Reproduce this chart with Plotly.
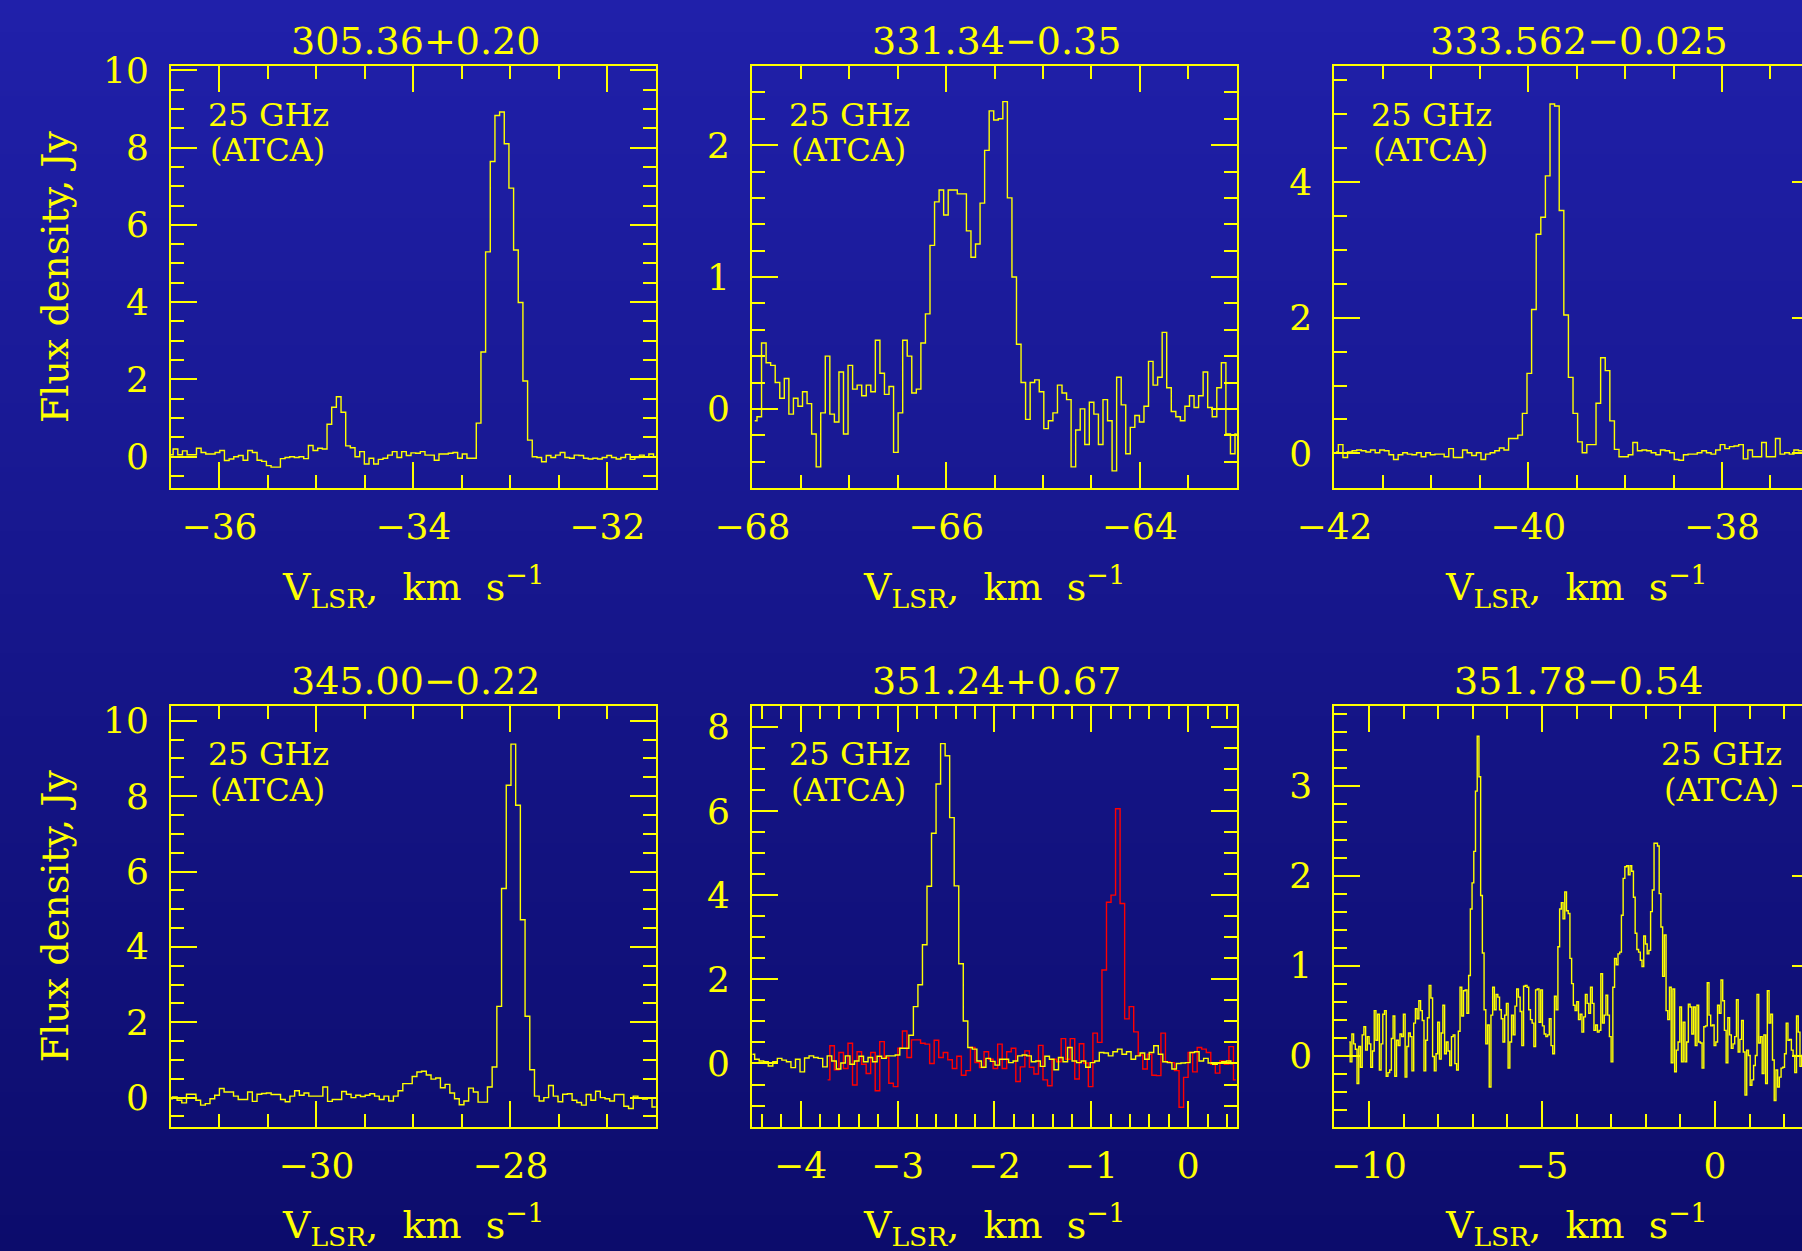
import base64, struct, zlib
import numpy as np
import plotly.graph_objects as go

W, H = 1802, 1251
YEL = "#ffff00"
RED = "#ff0000"
FONT = "DejaVu Serif"

# ---------------- data ----------------
titles = ["305.36+0.20", "331.34\u22120.35", "333.562\u22120.025",
          "345.00\u22120.22", "351.24+0.67", "351.78\u22120.54"]
band_label = ["25 GHz", "(ATCA)"]

# panel 1 : 305.36+0.20
p1_v0, p1_dv = -36.502, 0.0481
p1_flux = [0.05, 0.2, 0.05, 0.15, 0.05, 0.05, 0.22, 0.11, 0.07, 0.07,
           0.11, 0.16, -0.1, -0.06, 0.0, 0.03, -0.09, 0.16, 0.11, -0.09,
           -0.12, -0.23, -0.27, -0.27, -0.05, -0.02, 0.0, -0.02, 0.0, -0.05,
           0.29, 0.16, 0.22, 0.2,
           0.84, 1.28, 1.55, 1.15, 0.28, 0.23, 0.0, 0.13, -0.19, -0.04,
           -0.19, -0.07, -0.04, 0.04, 0.13, -0.02, 0.13, 0.03, 0.1, 0.09,
           0.13, 0.04, 0.04, -0.09, 0.07, 0.07, 0.09, 0.11, -0.04, 0.07,
           -0.04, -0.04,
           0.87, 2.71, 5.3, 7.64, 8.83, 8.92, 8.1, 6.95, 5.35, 3.99, 1.96, 0.43,
           0.0, -0.02, -0.13, 0.03, -0.02, 0.04, 0.11, -0.02, -0.04, 0.04,
           0.03, -0.04, -0.06, -0.04, -0.06, -0.02, 0.03, -0.02, -0.06, -0.02,
           0.06, -0.07, -0.02, 0.04, 0.0, 0.07, 0.0]

# panel 2 : 331.34-0.35
p2_v0, p2_dv = -67.976, 0.047
p2_flux = [-0.09, -0.06, 0.5, 0.35, 0.33, 0.2, 0.08, 0.23, -0.04, 0.08,
           0.02, 0.13, 0.04, -0.19, -0.44, -0.03, 0.4, -0.04, -0.1, 0.28,
           -0.19, 0.33, 0.15, 0.18, 0.1, 0.18, 0.13, 0.52, 0.27, 0.11,
           0.17, -0.33, -0.03, 0.52, 0.4, 0.12, 0.15, 0.5, 0.72, 1.24,
           1.57, 1.66, 1.47, 1.66, 1.66, 1.63, 1.63, 1.35, 1.15, 1.25,
           1.56, 1.96, 2.26, 2.19, 2.2, 2.33, 1.6, 1.0, 0.49, 0.2,
           -0.08, 0.2, 0.22, 0.13, -0.15, -0.09, -0.03, 0.18, 0.12, 0.07,
           -0.44, -0.16, 0.0, -0.27, 0.05, -0.04, -0.27, 0.07, -0.09, -0.47,
           0.24, 0.03, -0.34, -0.14, -0.05, -0.1, 0.02, 0.36, 0.18, 0.24,
           0.58, 0.16, -0.02, -0.06, -0.09, 0.02, 0.1, 0.01, 0.1, 0.28,
           0.01, -0.06, 0.16, 0.35, -0.19, -0.34, -0.19]

# panel 3 : 333.562-0.025
p3_v0, p3_dv = -41.984, 0.0475
p3_flux = [0.02, 0.13, -0.06, 0.02, 0.04, 0.05, 0.04, 0.02, 0.05, 0.01,
           0.05, 0.04, -0.02, -0.09, -0.02, 0.01, -0.01, -0.02, 0.01, -0.05,
           0.01, -0.02, -0.01, -0.01, -0.05, 0.07, -0.06, -0.06, 0.05, 0.01,
           -0.03, 0.01, -0.09, -0.01, 0.01, 0.04, 0.08, 0.05, 0.22, 0.22,
           0.27, 0.59, 1.18, 2.12, 3.23, 3.48, 4.09, 5.15, 5.12, 3.58,
           2.04, 1.12, 0.59, 0.17, 0.01, 0.13, 0.13, 0.74, 1.41, 1.22,
           0.48, 0.06, -0.05, -0.05, -0.02, 0.16, 0.04, 0.05, 0.04, 0.01,
           -0.02, 0.05, 0.04, 0.01, -0.09, -0.1, -0.02, -0.01, -0.01, 0.01,
           0.04, 0.01, -0.01, 0.05, 0.13, 0.07, 0.1, 0.11, 0.13, -0.08,
           0.05, -0.05, -0.05, 0.16, -0.05, -0.05, 0.22, -0.01, 0.01, -0.01,
           0.05, 0.04, 0.03, 0.02, 0.0, 0.01]

# panel 4 : 345.00-0.22
p4_v0, p4_dv = -31.51, 0.0485
p4_flux = [-0.03, 0.02, -0.07, -0.14, 0.09, 0.09, -0.07, -0.2, -0.16, -0.03,
           0.06, 0.24, 0.15, 0.15, 0.04, -0.05, -0.05, 0.15, -0.1, 0.09,
           0.11, 0.12, 0.08, 0.08, -0.05, -0.11, 0.04, 0.18, 0.06, 0.12,
           0.04, 0.04, 0.04, 0.28, -0.1, -0.05, -0.05, 0.16, 0.09, 0.0,
           0.06, 0.03, 0.06, 0.1, 0.04, -0.05, 0.04, -0.09, 0.04, 0.18,
           0.37, 0.37, 0.56, 0.68, 0.7, 0.6, 0.49, 0.52, 0.26, 0.35,
           0.12, -0.03, -0.19, -0.09, 0.25, 0.15, -0.12, -0.12,
           0.28, 0.81, 2.42, 5.55, 8.29, 9.38, 7.76, 4.72, 2.16, 0.74,
           0.04, -0.09, 0.0, 0.32, 0.04, -0.11, 0.09, 0.1, -0.07, -0.13,
           -0.2, 0.08, -0.07, 0.17, 0.0, -0.03, -0.09, 0.08, 0.08, -0.23,
           -0.29, 0.04, 0.0, -0.04, 0.0, -0.25, 0.0]

# panel 5 : 351.24+0.67 (yellow = 25 GHz, red = second line)
p5_v0, p5_dv = -4.498, 0.0468
p5_flux = [0.22, 0.1, 0.06, 0.04, -0.06, 0.04, 0.12, 0.08, 0.04, -0.1,
           0.1, -0.2, 0.13, 0.18, 0.14, 0.12, -0.08, 0.18, 0.06, -0.13,
           0.01, 0.18, -0.02, 0.06, 0.17, 0.04, 0.14, 0.04, 0.17, 0.12,
           0.18, 0.18, 0.2, 0.36, 0.36, 0.67, 1.35, 1.87, 2.82, 4.21,
           5.47, 6.64, 7.6, 7.31, 5.84, 4.22, 2.37, 1.01, 0.38, 0.34,
           0.06, -0.09, 0.12, 0.05, -0.04, 0.1, 0.1, 0.02, 0.06, 0.18,
           0.2, 0.18, 0.04, 0.06, -0.07, 0.17, 0.1, -0.15, 0.14, 0.04,
           0.38, 0.06, 0.02, 0.06, -0.09, 0.02, 0.06, 0.26, 0.25, 0.18,
           0.28, 0.34, 0.22, 0.28, 0.1, 0.18, 0.25, 0.1, 0.26, 0.42,
           0.22, 0.04, 0.02, -0.13, 0.0, 0.01, 0.02, 0.26, 0.28, 0.06,
           0.12, 0.01, -0.02, 0.01, 0.04, 0.06, 0.0]
p5_red_v0, p5_red_dv = -3.722, 0.0468
p5_red_flux = [-0.39, 0.42, -0.15, 0.26, -0.12, 0.48, -0.51, 0.28, -0.02, -0.24,
               0.26, -0.65, 0.52, 0.14, -0.47, -0.55, 0.36, 0.77, 0.14, 0.56,
               0.56, 0.48, 0.46, 0.0, 0.55, 0.14, 0.26, 0.09, -0.12, 0.17,
               -0.28, -0.17, 0.38, 0.02, -0.1, 0.28, 0.1, -0.12, 0.46, -0.12,
               0.28, 0.36, -0.43, -0.08, 0.3, -0.09, -0.25, 0.43, -0.39, -0.53,
               0.1, 0.04, 0.59, 0.1, 0.59, -0.37, 0.47, 0.01, -0.55, 0.72,
               0.5, 2.22, 3.83, 4.0, 6.05, 3.8, 1.06, 1.35, 0.75, 0.2,
               -0.13, 0.22, -0.28, -0.29, 0.72, 0.04, 0.02, -0.17, -1.04, -0.33,
               0.26, -0.2, 0.38, 0.34, 0.26, -0.02, -0.23, 0.06, -0.02, 0.4,
               -0.39]

# panel 6 : 351.78-0.54
p6_v0, p6_dv = -10.566, 0.0496
p6_flux = [0.15, -0.07, 0.24, 0.13, 0.07, -0.31, 0.1, -0.13, 0.23, 0.32,
           0.06, 0.21, 0.13, -0.13, 0.05, 0.5, 0.17, 0.46, -0.16, 0.13,
           0.46, 0.5, -0.23, -0.19, -0.16, 0.19, 0.44, -0.23, 0.17, 0.11,
           0.24, 0.21, 0.46, -0.24, 0.1, 0.25, 0.21, -0.17, 0.36, 0.52,
           0.41, 0.61, 0.5, 0.39, -0.17, 0.17, 0.42, 0.78, 0.64, -0.01,
           -0.17, 0.02, 0.37, -0.04, 0.25, 0.56, 0.02, 0.15, 0.05, -0.11,
           0.21, 0.23, -0.09, -0.16, 0.27, 0.76, 0.44, 0.72, 0.73, 0.47,
           0.89, 1.63, 1.92, 2.27, 2.94, 3.55, 3.1,
           1.78, 1.14, 0.51, 0.13, 0.34, -0.35, 0.45, 0.76, 0.51, 0.68,
           0.65, 0.51, 0.41, 0.15, 0.45, 0.58, -0.14, 0.15, 0.45, 0.23,
           0.55, 0.74, 0.65, 0.49, 0.11, 0.77, 0.78, 0.76, 0.51, 0.4,
           0.36, 0.1, 0.73, 0.74, 0.37, 0.73, 0.33, 0.24, 0.21, 0.23,
           0.41, 0.11, 0.02, 0.66, 0.51, 1.21, 1.63, 1.7, 1.52, 1.82,
           1.61, 1.58, 1.08, 0.8,
           0.56, 0.5, 0.6, 0.4, 0.46, 0.26, 0.43, 0.68, 0.58, 0.47,
           0.76, 0.58, 0.28, 0.34, 0.26, 0.28, 0.91, 0.36, 0.45, 0.67,
           0.45, 0.21, -0.07, 0.76, 1.08, 1.01, 1.13, 1.15, 1.56, 1.97,
           2.1, 2.11, 2.01, 2.11, 2.05, 1.76, 1.36, 1.18, 1.15, 1.06,
           0.99, 1.33, 1.24, 1.13, 1.17, 1.6, 1.84, 2.36, 2.36, 2.33,
           1.8, 1.43, 0.88, 1.34, 0.5, 0.4, 0.76, -0.08, 0.74, -0.18,
           0.06, 0.15, 0.54, -0.07, 0.37, -0.07, 0.15, 0.57, 0.54, 0.24,
           0.54, 0.11, 0.56, 0.15, 0.14, -0.14, 0.32, 0.33, 0.81, 0.45,
           0.33, 0.34, 0.11, 0.15, 0.56, 0.47, 0.84, 0.61, 0.28, -0.08,
           0.42, 0.23, 0.08, 0.13, 0.21, 0.62, 0.04, 0.18, 0.39, 0.04,
           -0.44, 0.06, 0.0, -0.33, -0.27, -0.11, 0.0, 0.68, 0.14, 0.21,
           -0.2, 0.23, -0.31, 0.72, 0.36, 0.46, -0.05, -0.5, -0.16, -0.35,
           -0.24, -0.14, -0.13, 0.02, 0.36, 0.17, 0.18, 0.06, 0.0, -0.19,
           0.44, 0.26, -0.12, 0.0, 0.0]

# axis settings (ranges and tick spacings)
x_ranges = [[-36.5, -31.5], [-68.002, -63.0], [-42.002, -37.174],
            [-31.5, -26.5], [-4.5, 0.5], [-11.0, 2.513]]
y_ranges = [[-0.81, 10.11], [-0.6, 2.6], [-0.51, 5.71],
            [-0.77, 10.4], [-1.5, 8.5], [-0.79, 3.89]]
x_major = [2, 2, 2, 2, 1, 5]
x_minor = [0.5, 0.5, 0.5, 0.5, 0.2, 1]
y_major = [2, 1, 2, 2, 2, 1]
y_minor = [0.5, 0.2, 0.5, 0.5, 0.5, 0.2]

# ---------------- layout geometry (pixels) ----------------
col_left = [171.0, 752.2, 1334.3]
col_right = [655.8, 1236.7, 1818.9]
row_top = [66.0, 705.7]
row_bot = [488.0, 1126.6]


def px(x):
    return x / W


def py(y):
    return 1 - y / H


def gradient_png(top, bottom, n=256):
    raw = b""
    for i in range(n):
        t = i / (n - 1)
        c = bytes(int(round(top[k] + (bottom[k] - top[k]) * t)) for k in range(3))
        raw += b"\x00" + c + c
    def chunk(tag, data):
        return (struct.pack(">I", len(data)) + tag + data +
                struct.pack(">I", zlib.crc32(tag + data) & 0xffffffff))
    png = (b"\x89PNG\r\n\x1a\n" +
           chunk(b"IHDR", struct.pack(">IIBBBBB", 2, n, 8, 2, 0, 0, 0)) +
           chunk(b"IDAT", zlib.compress(raw, 9)) + chunk(b"IEND", b""))
    return "data:image/png;base64," + base64.b64encode(png).decode()


fig = go.Figure()

spectra = [(p1_v0, p1_dv, p1_flux), (p2_v0, p2_dv, p2_flux), (p3_v0, p3_dv, p3_flux),
           (p4_v0, p4_dv, p4_flux), (p5_v0, p5_dv, p5_flux), (p6_v0, p6_dv, p6_flux)]

for i, (v0, dv, flux) in enumerate(spectra):
    n = i + 1
    if n == 5:
        vr = p5_red_v0 + p5_red_dv * np.arange(len(p5_red_flux))
        fig.add_trace(go.Scatter(x=vr, y=p5_red_flux, mode="lines",
                                 line=dict(color=RED, width=1.4, shape="hvh"),
                                 xaxis="x5", yaxis="y5", hoverinfo="skip", showlegend=False))
    v = v0 + dv * np.arange(len(flux))
    fig.add_trace(go.Scatter(x=v, y=flux, mode="lines",
                             line=dict(color=YEL, width=1.4, shape="hvh"),
                             xaxis=f"x{n}", yaxis=f"y{n}", hoverinfo="skip", showlegend=False))

# dummy traces to carry the right-hand tick axes of the clipped panels
fig.add_trace(go.Scatter(x=[], y=[], xaxis="x3", yaxis="y7", showlegend=False))
fig.add_trace(go.Scatter(x=[], y=[], xaxis="x6", yaxis="y8", showlegend=False))

tickfont = dict(family=FONT, size=36, color=YEL)
layout = {}
for i in range(6):
    n = i + 1
    r, c = divmod(i, 3)
    xd = [px(col_left[c]), min(1.0, px(col_right[c]))]
    yd = [py(row_bot[r]), py(row_top[r])]
    sfx = "" if n == 1 else str(n)
    clipped = (c == 2)
    layout["xaxis" + sfx] = dict(
        domain=xd, range=x_ranges[i], anchor=f"y{n}", automargin=False,
        showline=True, linecolor=YEL, linewidth=2, mirror="ticks",
        ticks="inside", ticklen=26, tickwidth=1.5, tickcolor=YEL,
        tick0=0, dtick=x_major[i], tickfont=tickfont, ticklabelstandoff=6,
        minor=dict(tick0=0, dtick=x_minor[i], ticks="inside", ticklen=13,
                   tickwidth=1.5, tickcolor=YEL, showgrid=False),
        showgrid=False, zeroline=False, fixedrange=True)
    layout["yaxis" + sfx] = dict(
        domain=yd, range=y_ranges[i], anchor=f"x{n}", automargin=False,
        showline=True, linecolor=YEL, linewidth=2,
        mirror=(False if clipped else "ticks"),
        ticks="inside", ticklen=26, tickwidth=1.5, tickcolor=YEL,
        tick0=0, dtick=y_major[i], tickfont=tickfont, ticklabelstandoff=13,
        minor=dict(tick0=0, dtick=y_minor[i], ticks="inside", ticklen=13,
                   tickwidth=1.5, tickcolor=YEL, showgrid=False),
        showgrid=False, zeroline=False, fixedrange=True)

for ax, base, i in (("yaxis7", "y3", 2), ("yaxis8", "y6", 5)):
    layout[ax] = dict(overlaying=base, side="right", anchor=f"x{i+1}", automargin=False,
                      range=y_ranges[i], tick0=0, dtick=y_major[i],
                      ticks="inside", ticklen=10, tickwidth=1.5, tickcolor=YEL,
                      showline=False, showticklabels=False, showgrid=False,
                      zeroline=False, fixedrange=True)

ann = []
for i in range(6):
    r, c = divmod(i, 3)
    cx = (col_left[c] + col_right[c]) / 2
    ann.append(dict(text=titles[i], x=px(cx + 2), y=py(row_top[r] - 24.5),
                    xref="paper", yref="paper", xanchor="center", yanchor="middle",
                    showarrow=False, font=dict(family=FONT, size=38, color=YEL)))
    ann.append(dict(text="V<sub>LSR</sub>,\u00a0\u00a0km\u00a0\u00a0s<sup>\u22121</sup>",
                    x=px(cx), y=py(row_bot[r] + 98), xref="paper", yref="paper",
                    xanchor="center", yanchor="middle", showarrow=False,
                    font=dict(family=FONT, size=38, color=YEL)))
    if c == 2 and r == 1:
        lx = col_left[c] + 387.5
    else:
        lx = col_left[c] + 97
    ann.append(dict(text=band_label[0], x=px(lx), y=py(row_top[r] + 48.7),
                    xref="paper", yref="paper", xanchor="center", yanchor="middle",
                    showarrow=False, font=dict(family=FONT, size=32, color=YEL)))
    ann.append(dict(text=band_label[1], x=px(lx - 0.5), y=py(row_top[r] + 84),
                    xref="paper", yref="paper", xanchor="center", yanchor="middle",
                    showarrow=False, font=dict(family=FONT, size=32, color=YEL)))
for r in range(2):
    ann.append(dict(text="Flux density, Jy", x=px(55), y=py((row_top[r] + row_bot[r]) / 2),
                    xref="paper", yref="paper", xanchor="center", yanchor="middle",
                    textangle=-90, showarrow=False,
                    font=dict(family=FONT, size=38, color=YEL)))

fig.update_layout(
    width=W, height=H, autosize=False,
    margin=dict(l=0, r=0, t=0, b=0, pad=0),
    paper_bgcolor="#17178e", plot_bgcolor="rgba(0,0,0,0)",
    showlegend=False, hovermode=False,
    images=[dict(source=gradient_png((32, 32, 170), (12, 12, 108)),
                 xref="paper", yref="paper", x=0, y=1, sizex=1, sizey=1,
                 xanchor="left", yanchor="top", sizing="stretch", layer="below")],
    annotations=ann,
    **layout)

fig.write_html("out.html", include_plotlyjs=True, config={"displayModeBar": False})
